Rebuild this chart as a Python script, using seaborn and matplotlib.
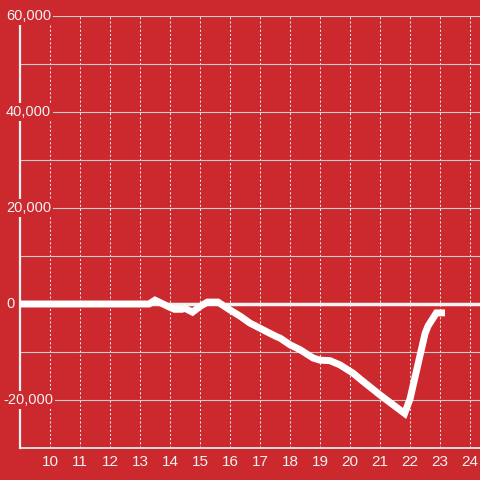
import matplotlib
matplotlib.use("Agg")
import matplotlib.pyplot as plt
import seaborn as sns

# hour of day and running value
hours = [9.0, 13.3, 13.5, 14.0, 14.15, 14.4, 14.5, 14.75, 15.0, 15.25, 15.6,
         16.0, 16.33, 16.67, 16.83, 17.2, 17.55, 17.67, 18.0, 18.33, 18.77,
         19.0, 19.33, 19.67, 20.1, 20.33, 21.0, 21.82, 22.0, 22.5, 22.6, 22.88, 23.05]
values = [0, 0, 800, -700, -1100, -1100, -900, -1700, -500, 400, 400,
          -1250, -2500, -4000, -4500, -5700, -6800, -7100, -8500, -9500, -11250,
          -11700, -11800, -12700, -14400, -15600, -18950, -22800, -19800, -6200, -4600, -1850, -1850]

x_ticks = list(range(10, 25))
y_grid = [-20000, -10000, 0, 10000, 20000, 30000, 40000, 50000, 60000]
y_label_vals = [60000, 40000, 20000, 0, -20000]
y_label_txt = ["60,000", "40,000", "20,000", "0", "-20,000"]

bg = "#cc292e"
fg = "#f2f2f2"

sns.set_style("white")
plt.rcParams["font.family"] = ["Liberation Sans", "DejaVu Sans"]

fig = plt.figure(figsize=(4.8, 4.8), dpi=100, facecolor=bg)
ax = fig.add_axes([20 / 480, 32 / 480, 460 / 480, 432 / 480])
ax.set_facecolor(bg)

ax.set_xlim(9.0, 9.0 + 460 / 30)
ax.set_ylim(-30000, 60000)

# grid
ax.set_xticks(x_ticks)
ax.set_yticks(y_grid)
ax.grid(axis="y", color="#cccccc", linewidth=0.8, linestyle="-")
ax.grid(axis="x", color="#e8e8e8", linewidth=0.75, linestyle=(0, (2, 2)))
ax.set_axisbelow(True)
ax.tick_params(axis="both", length=0)
ax.tick_params(axis="x", labelsize=11, labelcolor=fg, pad=5)
ax.set_yticklabels([])

for s in ["top", "right"]:
    ax.spines[s].set_visible(False)
ax.spines["left"].set_color(fg)
ax.spines["left"].set_linewidth(1.6)
ax.spines["left"].set_zorder(3)
ax.spines["bottom"].set_color("#dddddd")
ax.spines["bottom"].set_linewidth(1.4)

# zero line
ax.axhline(0, color=fg, linewidth=2.5, zorder=4)

sns.lineplot(x=hours, y=values, ax=ax, color="white", linewidth=5, zorder=6,
             solid_capstyle="projecting", solid_joinstyle="miter")

# y labels sit inside the plot with a background box
for v, t in zip(y_label_vals, y_label_txt):
    px = 3 if v < 0 else 6
    ax.text((px - 20) / 460, v, t, transform=ax.get_yaxis_transform(),
            ha="left", va="center", fontsize=10.5, color=fg, zorder=5,
            bbox=dict(facecolor=bg, edgecolor="none", pad=1.5))

ax.set_xlabel("")
ax.set_ylabel("")
fig.savefig("out.png", dpi=100, facecolor=bg)
